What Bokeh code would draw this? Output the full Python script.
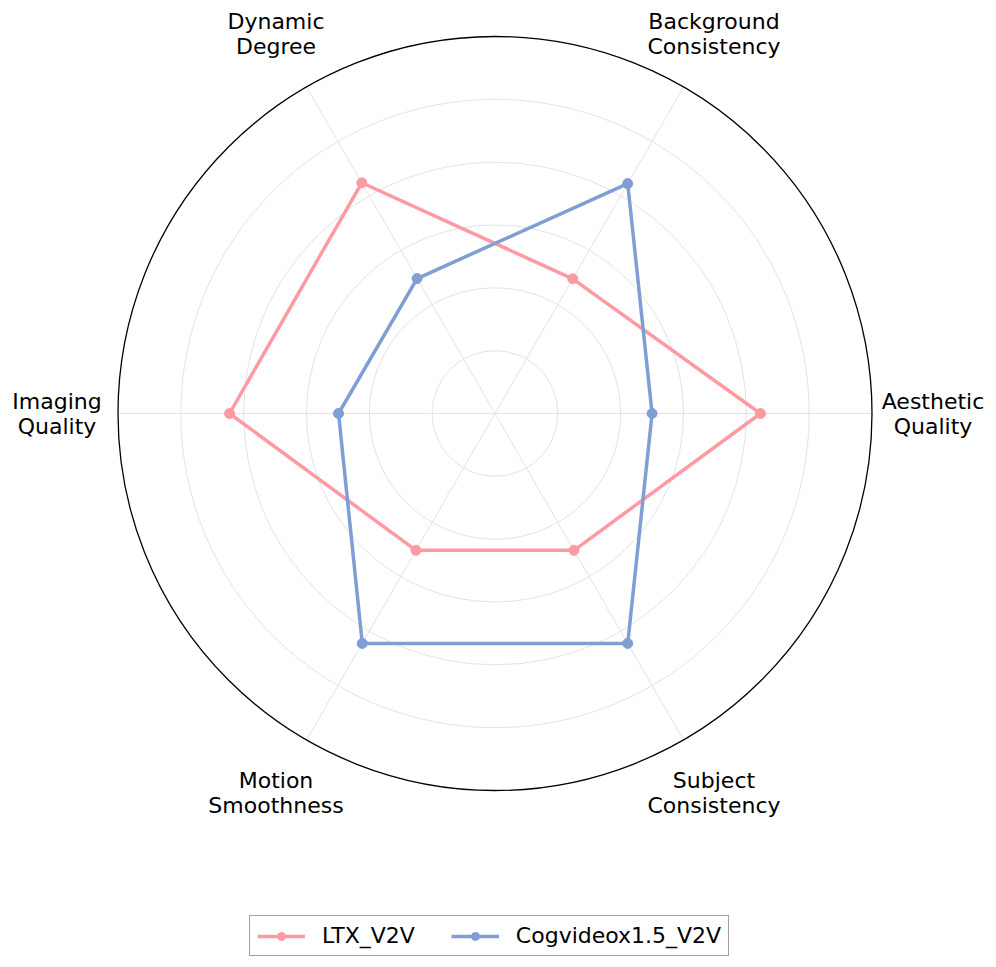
import numpy as np
from bokeh.plotting import figure
from bokeh.models import Range1d, Legend, LegendItem, ColumnDataSource
from bokeh.core.properties import value
from bokeh.embed import file_html
from bokeh.resources import INLINE

# ---- data ----
categories = ["Aesthetic\nQuality", "Background\nConsistency", "Dynamic\nDegree",
              "Imaging\nQuality", "Motion\nSmoothness", "Subject\nConsistency"]
ltx_v2v = [0.845, 0.495, 0.848, 0.845, 0.503, 0.503]
cog_v2v = [0.500, 0.845, 0.496, 0.498, 0.845, 0.845]
ring_ticks = [0.2, 0.4, 0.6, 0.8, 1.0]
r_max = 1.2

PINK = "#FF9AA2"
BLUE = "#7F9ED3"
FONT = "DejaVu Sans"

n = len(categories)
angles = np.arange(n) * 2 * np.pi / n

# pixels per unit: 377px <-> 1.2
ppu = 377 / r_max
W, H = 988, 959
cx, cy = 494.5, 413  # center in frame pixels
x_range = Range1d(-cx / ppu, (W - cx) / ppu)
y_range = Range1d(-(H - cy) / ppu, cy / ppu)

p = figure(width=W, height=H, x_range=x_range, y_range=y_range,
           output_backend="svg", toolbar_location=None, min_border=0,
           match_aspect=False)
p.axis.visible = False
p.grid.visible = False
p.outline_line_color = None
p.background_fill_color = "white"
p.border_fill_color = "white"

# grid rings
p.circle(x=[0] * len(ring_ticks), y=[0] * len(ring_ticks), radius=ring_ticks,
         fill_color=None, line_color="#e3e3e3", line_width=1)
# spokes
p.segment(x0=[0] * n, y0=[0] * n, x1=list(r_max * np.cos(angles)),
          y1=list(r_max * np.sin(angles)), line_color="#e3e3e3", line_width=1)
# outer spine
p.circle(x=[0], y=[0], radius=[r_max], fill_color=None, line_color="black", line_width=1.3)

def closed_xy(vals):
    v = np.array(vals + vals[:1])
    a = np.concatenate([angles, angles[:1]])
    return list(v * np.cos(a)), list(v * np.sin(a))

items = []
for name, vals, col in [("LTX_V2V", ltx_v2v, PINK), ("Cogvideox1.5_V2V", cog_v2v, BLUE)]:
    xs, ys = closed_xy(vals)
    lr = p.line(xs, ys, line_color=col, line_width=3.5)
    sr = p.scatter(xs[:-1], ys[:-1], size=10, fill_color=col, line_color=col)
    items.append(LegendItem(label=name, renderers=[lr, sr]))

# category labels
lab_r = 438 / ppu
src = ColumnDataSource(dict(x=list(lab_r * np.cos(angles)), y=list(lab_r * np.sin(angles)),
                            t=categories))
p.text(x="x", y="y", text="t", source=src, text_align="center", text_baseline="middle",
       text_font=value(FONT), text_font_size="22px", text_color="black",
       text_line_height=1.0)

legend = Legend(items=items, orientation="horizontal", location=(249, 3),
                glyph_width=48, glyph_height=20, label_standoff=17, spacing=36,
                padding=7, margin=0, label_text_font=FONT, label_text_font_size="22px",
                label_text_color="black",
                border_line_color="#444444", border_line_width=1,
                background_fill_alpha=1.0)
p.add_layout(legend, "center")

open("out.html", "w").write(file_html(p, INLINE))
